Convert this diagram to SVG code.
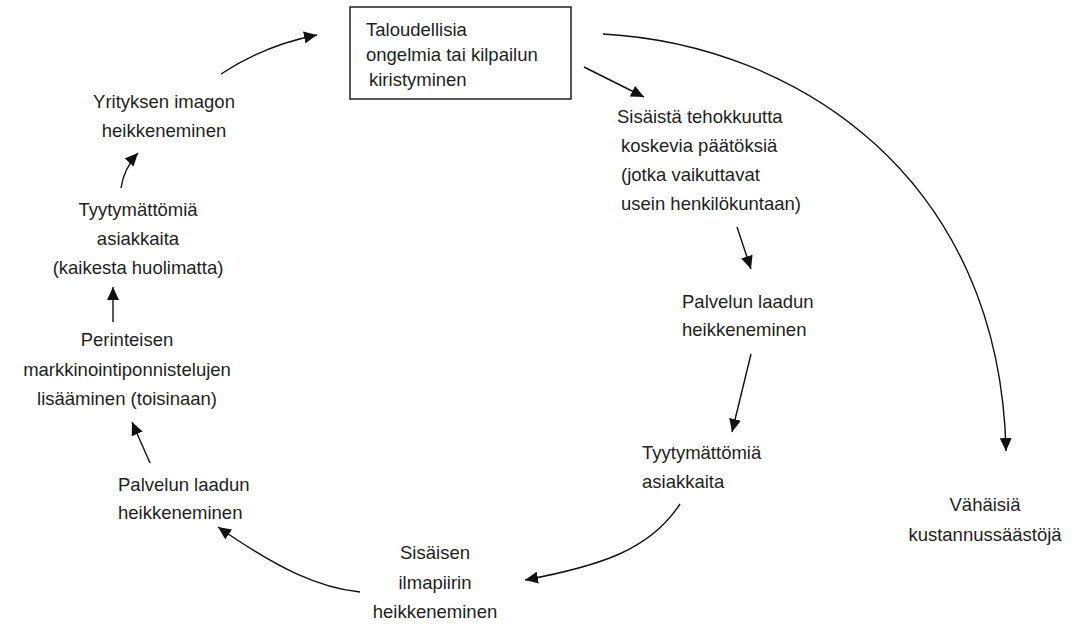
<svg xmlns="http://www.w3.org/2000/svg" width="1072" height="624" viewBox="0 0 1072 624">
<defs>
<style>
text{font-family:"Liberation Sans",Arial,sans-serif;font-size:18.5px;fill:#1e1e1e}
.c{text-anchor:middle}
.ln{fill:none;stroke:#111;stroke-width:1.4;marker-end:url(#ah)}
</style>
<marker id="ah" markerUnits="userSpaceOnUse" markerWidth="14" markerHeight="12" viewBox="0 0 14 12" refX="13" refY="6" orient="auto">
<path d="M0,0 L13,6 L0,12 Z" fill="#111"/>
</marker>
</defs>
<rect width="1072" height="624" fill="#fff"/>
<g id="connectors">
<path class="ln" d="M221,74 Q265,45 317,35"/>
<path class="ln" d="M584,67 L644,97"/>
<path class="ln" d="M603,34 C800,45 1000,180 1006,451"/>
<path class="ln" d="M737,227 L751,269"/>
<path class="ln" d="M751,354 L732,432"/>
<path class="ln" d="M680,504 C650,550 600,566 525,580"/>
<path class="ln" d="M360,592 C320,588 280,570 218,527"/>
<path class="ln" d="M150,463 L132,422"/>
<path class="ln" d="M113,322 L113,287"/>
<path class="ln" d="M121,188 Q124,168 138,153"/>
</g>
<g id="n-start">
<rect x="350" y="7" width="221" height="92" fill="#fff" stroke="#111" stroke-width="1.4"/>
<text x="366" y="36">Taloudellisia</text>
<text x="366" y="61">ongelmia tai kilpailun</text>
<text x="369" y="86">kiristyminen</text>
</g>
<g id="n-sisaista">
<text x="617" y="123">Sisäistä tehokkuutta</text>
<text x="621" y="152">koskevia päätöksiä</text>
<text x="621" y="181">(jotka vaikuttavat</text>
<text x="621" y="210">usein henkilökuntaan)</text>
</g>
<g id="n-palvelu-r">
<text x="682" y="308">Palvelun laadun</text>
<text x="682" y="336">heikkeneminen</text>
</g>
<g id="n-tyyty-r">
<text x="642" y="459">Tyytymättömiä</text>
<text x="642" y="488">asiakkaita</text>
</g>
<g id="n-vahaisia">
<text class="c" x="985" y="511">Vähäisiä</text>
<text class="c" x="985" y="541">kustannussäästöjä</text>
</g>
<g id="n-ilmapiiri">
<text class="c" x="435" y="559">Sisäisen</text>
<text class="c" x="435" y="589">ilmapiirin</text>
<text class="c" x="435" y="618">heikkeneminen</text>
</g>
<g id="n-palvelu-l">
<text x="118" y="491">Palvelun laadun</text>
<text x="118" y="519">heikkeneminen</text>
</g>
<g id="n-perinteisen">
<text class="c" x="127" y="346">Perinteisen</text>
<text class="c" x="127" y="376">markkinointiponnistelujen</text>
<text class="c" x="127" y="405">lisääminen (toisinaan)</text>
</g>
<g id="n-tyyty-l">
<text class="c" x="138" y="216">Tyytymättömiä</text>
<text class="c" x="138" y="245">asiakkaita</text>
<text class="c" x="138" y="274">(kaikesta huolimatta)</text>
</g>
<g id="n-imago">
<text class="c" x="164" y="108">Yrityksen imagon</text>
<text class="c" x="164" y="137">heikkeneminen</text>
</g>
</svg>
